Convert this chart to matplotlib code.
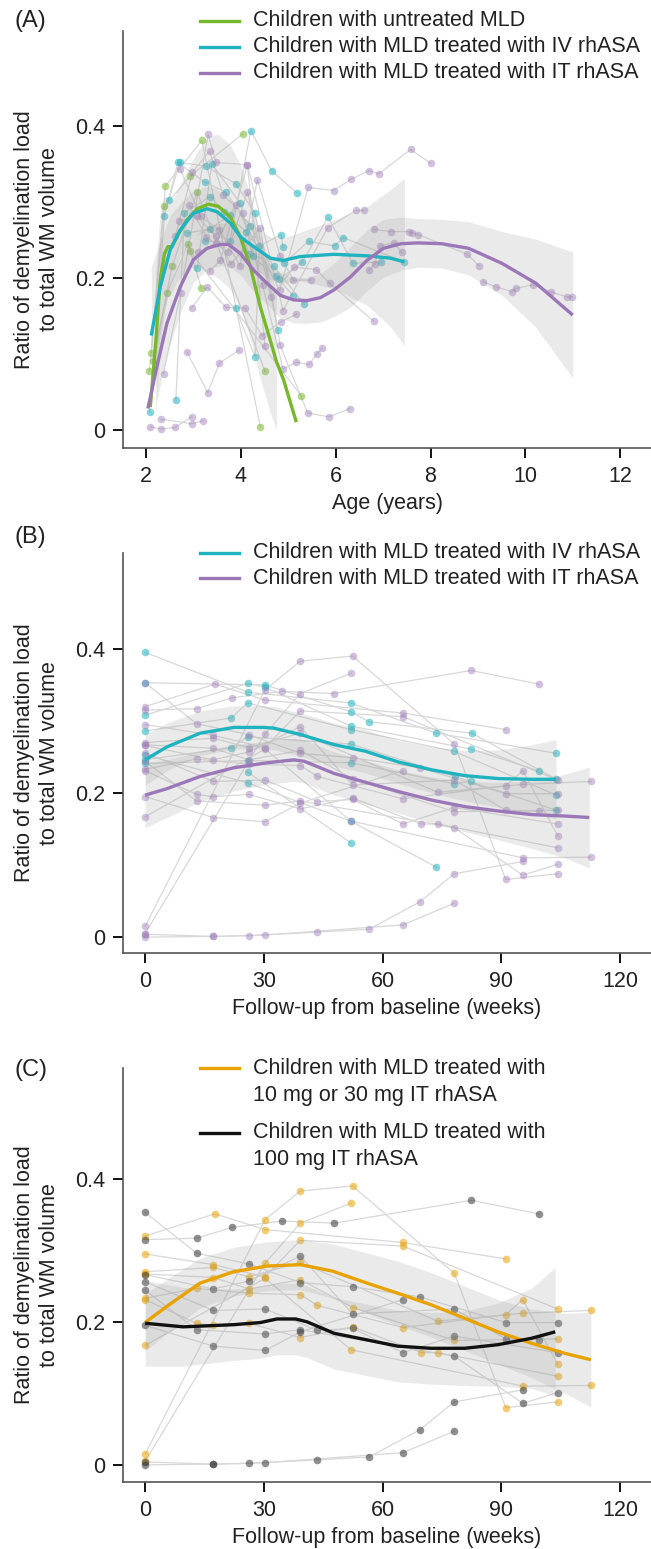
import matplotlib
matplotlib.use("Agg")
import matplotlib.pyplot as plt
from matplotlib.lines import Line2D
import numpy as np

plt.rcParams['font.family'] = ['Liberation Sans', 'DejaVu Sans']
plt.rcParams['font.size'] = 15.5

# colours
c_green = '#76b82a'
c_teal = '#1fb3bf'
c_purple = '#9b77b8'
c_orange = '#e8a202'
c_black = '#111111'

# ---------------- panel A: ratio vs age (one list per child) ----------------
untreated_age = [
    [2.07, 2.41, 3.18, 4.41],
    [2.11, 2.39, 2.93, 4.05],
    [2.15, 2.55, 3.08, 4.51],
    [2.44, 2.89, 3.17],
    [2.92, 5.27],
]
untreated_ratio = [
    [0.077, 0.321, 0.381, 0.004],
    [0.101, 0.294, 0.334, 0.390],
    [0.090, 0.215, 0.313, 0.077],
    [0.180, 0.245, 0.186],
    [0.236, 0.045],
]
iv_age = [
    [2.08, 2.39, 2.67, 3.24, 3.68, 4.20, 4.74, 5.11],
    [2.48, 2.71, 3.26, 3.89, 4.30, 4.78],
    [2.63, 2.81, 3.36, 3.64, 4.10, 4.69, 5.34],
    [2.86, 3.34, 3.78, 4.18, 4.81, 5.30, 5.84, 6.36, 6.96],
    [3.08, 3.39, 3.99, 4.25, 4.92, 5.43, 5.98, 6.16, 7.45],
    [3.24, 3.77, 4.21, 4.65, 5.18],
    [3.89, 4.30, 4.39, 4.85, 4.89],
]
iv_age_ratio = [
    [0.023, 0.282, 0.352, 0.326, 0.313, 0.268, 0.202, 0.176],
    [0.302, 0.352, 0.347, 0.324, 0.285, 0.131],
    [0.039, 0.286, 0.307, 0.287, 0.261, 0.216, 0.165],
    [0.259, 0.264, 0.283, 0.231, 0.198, 0.221, 0.280, 0.219, 0.221],
    [0.213, 0.350, 0.298, 0.229, 0.220, 0.248, 0.242, 0.253, 0.221],
    [0.248, 0.248, 0.394, 0.341, 0.312],
    [0.160, 0.096, 0.242, 0.257, 0.240],
]
it_age = [
    [2.09, 2.32, 2.61, 2.96],
    [2.31, 2.96, 3.21],
    [2.37, 2.73, 3.31, 3.48, 4.14, 4.51],
    [2.62, 2.98, 3.34, 3.63, 4.04, 4.46, 4.89, 5.17, 5.44, 5.61, 5.72],
    [2.70, 3.07, 3.47, 3.79, 4.41, 4.83, 5.41, 5.86, 6.30],
    [2.72, 3.15, 3.55, 3.98, 4.35, 4.83, 5.11, 5.48],
    [2.86, 3.30, 3.55, 3.97],
    [2.91, 3.27, 3.72, 4.14, 4.63, 5.13, 5.59, 5.87, 6.80],
    [2.96, 3.29, 3.69, 4.09, 4.45, 4.84, 5.17],
    [3.10, 3.48, 3.89, 4.82, 5.42, 5.96, 6.33, 6.70, 6.91, 7.58, 8.00],
    [3.34, 3.57, 4.14, 4.89, 5.83, 6.43, 6.59],
    [6.80, 7.16, 7.54, 7.62, 7.74, 8.78, 9.02],
    [6.70, 6.82, 6.94, 7.22, 7.39],
    [9.11, 9.38, 9.72, 9.80, 10.17, 10.55, 10.88, 10.99],
]
it_age_ratio = [
    [0.004, 0.001, 0.003, 0.017],
    [0.014, 0.008, 0.012],
    [0.074, 0.180, 0.389, 0.352, 0.349, 0.110],
    [0.255, 0.339, 0.367, 0.309, 0.285, 0.190, 0.080, 0.089, 0.086, 0.100, 0.107],
    [0.275, 0.281, 0.255, 0.218, 0.266, 0.111, 0.022, 0.017, 0.028],
    [0.343, 0.281, 0.263, 0.216, 0.329, 0.229, 0.197, 0.197],
    [0.103, 0.049, 0.088, 0.105],
    [0.296, 0.254, 0.234, 0.313, 0.175, 0.214, 0.211, 0.193, 0.143],
    [0.160, 0.188, 0.161, 0.160, 0.124, 0.142, 0.152],
    [0.234, 0.246, 0.296, 0.184, 0.319, 0.315, 0.330, 0.341, 0.337, 0.369, 0.351],
    [0.209, 0.223, 0.349, 0.157, 0.266, 0.289, 0.289],
    [0.264, 0.261, 0.261, 0.259, 0.257, 0.231, 0.216],
    [0.210, 0.218, 0.242, 0.246, 0.234],
    [0.195, 0.188, 0.182, 0.186, 0.191, 0.181, 0.175, 0.175],
]

# smoothed fits (x, fit, half width of CI)
fitA_untreated_x = [2.09, 2.20, 2.30, 2.39, 2.46, 2.55, 2.65, 2.86, 3.08, 3.32, 3.53, 3.78, 3.99, 4.20, 4.41, 4.62, 4.75, 4.90, 5.17]
fitA_untreated_y = [0.030, 0.110, 0.197, 0.232, 0.241, 0.241, 0.254, 0.276, 0.291, 0.297, 0.294, 0.280, 0.254, 0.215, 0.162, 0.118, 0.090, 0.066, 0.010]
fitA_untreated_hw = [0.080, 0.095, 0.090, 0.075, 0.065, 0.060, 0.060, 0.065, 0.075, 0.090, 0.095, 0.095, 0.095, 0.095, 0.095, 0.095, 0.090, 0.100, 0.140]
fitA_iv_x = [2.11, 2.30, 2.51, 2.72, 3.00, 3.29, 3.50, 3.78, 3.99, 4.27, 4.62, 4.90, 5.25, 5.96, 6.66, 7.15, 7.45]
fitA_iv_y = [0.124, 0.188, 0.237, 0.263, 0.285, 0.291, 0.287, 0.272, 0.254, 0.241, 0.226, 0.223, 0.228, 0.231, 0.229, 0.226, 0.221]
fitA_iv_hw = [0.090, 0.060, 0.045, 0.035, 0.030, 0.030, 0.030, 0.030, 0.030, 0.028, 0.028, 0.030, 0.032, 0.045, 0.065, 0.090, 0.110]
fitA_it_x = [2.04, 2.23, 2.44, 2.72, 3.00, 3.29, 3.57, 3.74, 3.99, 4.27, 4.55, 4.83, 5.11, 5.39, 5.68, 5.96, 6.31, 6.66, 7.01, 7.38, 7.74, 8.23, 8.80, 9.51, 10.22, 11.00]
fitA_it_y = [0.028, 0.083, 0.140, 0.188, 0.224, 0.239, 0.244, 0.244, 0.232, 0.210, 0.193, 0.177, 0.171, 0.170, 0.174, 0.184, 0.201, 0.223, 0.239, 0.245, 0.246, 0.245, 0.239, 0.219, 0.193, 0.151]
fitA_it_hw = [0.050, 0.045, 0.040, 0.035, 0.030, 0.028, 0.028, 0.028, 0.028, 0.028, 0.028, 0.030, 0.030, 0.030, 0.032, 0.035, 0.040, 0.040, 0.038, 0.035, 0.032, 0.032, 0.035, 0.042, 0.058, 0.083]

# ---------------- panels B and C: ratio vs weeks from baseline ----------------
iv_week = [
    [0, 25.9, 51.9, 73.6, 103.9],
    [0, 30.2, 51.9, 56.5, 82.5, 103.9],
    [0, 25.9, 30.2, 51.9, 82.3, 99.4],
    [0, 21.7, 25.9, 51.9, 78.0, 103.9],
    [0, 21.7, 25.9, 51.9, 78.2, 103.9],
    [0, 25.9, 51.9, 78.0, 82.2],
    [0, 25.9, 51.9, 73.6],
    [25.9, 51.9],
]
iv_ratio = [
    [0.395, 0.340, 0.325, 0.283, 0.255],
    [0.353, 0.350, 0.313, 0.299, 0.283, 0.219],
    [0.308, 0.352, 0.347, 0.293, 0.261, 0.231],
    [0.286, 0.304, 0.325, 0.288, 0.258, 0.197],
    [0.246, 0.263, 0.278, 0.268, 0.223, 0.176],
    [0.241, 0.245, 0.242, 0.213, 0.216],
    [0.253, 0.214, 0.161, 0.097],
    [0.229, 0.131],
]
it_week = [
    [0, 13, 21.9, 34.6, 47.7, 82.4, 99.5],
    [0, 13, 26.2, 39.2, 52.4, 69.4, 91.1, 104.2],
    [0, 17.2, 26.2, 39.2, 52.4, 78.1, 91.1, 99.4],
    [0, 17.2, 30.3, 43.5, 52.4, 65.1, 78.1, 104.2],
    [0, 13, 30.3, 39.2, 78.1, 95.4, 104.2],
    [0, 17.2, 30.3, 39.2, 65.1],
    [0, 17.2, 26.2, 43.5, 56.6, 69.4, 78.1, 95.5],
    [0, 17.2, 30.3, 65.1, 78.1],
    [0, 17.6, 30.3, 65.1, 91.1],
    [0, 17.2, 30.3, 39.2, 65.1, 104.2],
    [0, 17.2, 26.2, 39.2, 73.9, 95.4, 112.7],
    [0, 17.2, 26.2, 39.2, 52.4, 78.1, 104.2],
    [0, 13, 26.2, 39.2, 43.5, 65.1, 91.1, 95.4, 104.2],
    [0, 13, 17.2, 26.2, 39.2, 52.4, 69.7, 73.9, 104.2],
    [0, 30.3, 52.0, 95.5, 112.7],
    [0, 30.3, 39.2, 52.4, 78.1, 91.1, 104.2],
    [0, 30.3, 39.2, 52.0],
]
it_ratio = [
    [0.315, 0.317, 0.332, 0.341, 0.338, 0.370, 0.351],
    [0.353, 0.296, 0.281, 0.255, 0.249, 0.235, 0.199, 0.199],
    [0.266, 0.246, 0.257, 0.292, 0.211, 0.218, 0.176, 0.175],
    [0.256, 0.216, 0.218, 0.188, 0.191, 0.157, 0.180, 0.157],
    [0.244, 0.189, 0.183, 0.189, 0.152, 0.086, 0.101],
    [0.195, 0.166, 0.160, 0.186, 0.231],
    [0.000, 0.001, 0.002, 0.007, 0.011, 0.049, 0.088, 0.105],
    [0.004, 0.001, 0.003, 0.017, 0.047],
    [0.320, 0.351, 0.329, 0.311, 0.288],
    [0.295, 0.280, 0.263, 0.314, 0.306, 0.218],
    [0.270, 0.276, 0.263, 0.283, 0.201, 0.212, 0.216],
    [0.267, 0.262, 0.246, 0.259, 0.220, 0.174, 0.176],
    [0.233, 0.247, 0.240, 0.238, 0.223, 0.192, 0.210, 0.231, 0.141],
    [0.231, 0.198, 0.195, 0.198, 0.178, 0.193, 0.157, 0.157, 0.124],
    [0.167, 0.261, 0.161, 0.110, 0.111],
    [0.015, 0.343, 0.383, 0.390, 0.268, 0.080, 0.088],
    [0.005, 0.282, 0.338, 0.366],
]
it_dose = ['100', '100', '100', '100', '100', '100', '100', '100',
           '10/30', '10/30', '10/30', '10/30', '10/30', '10/30', '10/30', '10/30', '10/30']

fitB_iv_x = [0, 5.5, 13.9, 22.4, 30.0, 32.5, 39.3, 47.8, 55.6, 64.0, 72.5, 80.9, 89.3, 97.7, 103.8]
fitB_iv_y = [0.246, 0.264, 0.283, 0.291, 0.291, 0.290, 0.281, 0.267, 0.258, 0.243, 0.232, 0.224, 0.220, 0.219, 0.219]
fitB_iv_hw = [0.035, 0.033, 0.031, 0.030, 0.030, 0.030, 0.030, 0.030, 0.030, 0.030, 0.032, 0.035, 0.040, 0.048, 0.055]
fitB_it_x = [0, 5.5, 13.9, 22.4, 30.9, 37.6, 40.2, 47.8, 55.6, 64.0, 72.5, 80.9, 89.3, 97.7, 106.1, 112.2]
fitB_it_y = [0.197, 0.206, 0.223, 0.235, 0.242, 0.246, 0.244, 0.227, 0.215, 0.202, 0.190, 0.181, 0.175, 0.170, 0.168, 0.166]
fitB_it_hw = [0.045, 0.040, 0.035, 0.032, 0.030, 0.030, 0.030, 0.030, 0.030, 0.030, 0.032, 0.035, 0.040, 0.047, 0.058, 0.070]

fitC_low_x = [0, 5.3, 13.8, 22.3, 30.8, 39.2, 47.3, 55.6, 63.8, 72.2, 80.7, 89.1, 97.6, 106.0, 112.6]
fitC_low_y = [0.199, 0.221, 0.254, 0.270, 0.278, 0.280, 0.271, 0.255, 0.240, 0.224, 0.205, 0.186, 0.170, 0.156, 0.147]
fitC_low_hw = [0.040, 0.038, 0.035, 0.034, 0.034, 0.035, 0.038, 0.042, 0.045, 0.045, 0.045, 0.045, 0.048, 0.056, 0.066]
fitC_high_x = [0, 9.6, 22.3, 29.1, 33.3, 38.0, 40.9, 47.7, 55.8, 63.8, 72.2, 80.7, 89.1, 97.6, 103.6]
fitC_high_y = [0.198, 0.193, 0.196, 0.199, 0.204, 0.204, 0.200, 0.184, 0.175, 0.166, 0.163, 0.163, 0.168, 0.177, 0.186]
fitC_high_hw = [0.060, 0.055, 0.050, 0.050, 0.050, 0.050, 0.050, 0.050, 0.050, 0.050, 0.050, 0.052, 0.058, 0.070, 0.090]

W, H = 651, 1549


def draw_paths(ax, xs, ys):
    for x, y in zip(xs, ys):
        ax.plot(x, y, color='#d8d8d8', lw=0.9, zorder=1)


def draw_points(ax, xs, ys, color, alpha=0.5):
    ax.scatter(np.concatenate(xs), np.concatenate(ys), s=30, color=color,
               alpha=alpha, linewidths=0, zorder=2)


def draw_fit(ax, x, y, hw, color):
    x = np.array(x); y = np.array(y); hw = np.array(hw)
    lo, hi = y - hw, y + hw
    ax.fill_between(x, lo, hi, where=lo >= -0.001, color='#9a9a9a', alpha=0.2,
                    linewidth=0, zorder=3)
    ax.plot(x, y, color=color, lw=2.4, zorder=4, solid_capstyle='butt')


def style_axes(ax, xlim, ylim, xticks, xlabel):
    ax.set_xlim(*xlim)
    ax.set_ylim(*ylim)
    ax.set_xticks(xticks)
    ax.set_yticks([0, 0.2, 0.4])
    ax.set_yticklabels(['0', '0.2', '0.4'])
    for s in ['top', 'right']:
        ax.spines[s].set_visible(False)
    for s in ['left', 'bottom']:
        ax.spines[s].set_color('#555555')
        ax.spines[s].set_linewidth(1.2)
    ax.tick_params(length=7, width=1.4, color='#111111', labelcolor='#222222', pad=6)
    ax.set_xlabel(xlabel, color='#222222', labelpad=4)
    ax.set_ylabel('Ratio of demyelination load\nto total WM volume', color='#222222',
                  linespacing=1.25)
    ax.yaxis.set_label_coords(-0.12, 0.5)


def add_key(fig, entries, x0=200, x1=239, xt=253):
    # entries: (colour, [(y_px, text line), ...])
    for color, lines in entries:
        yk = 1 - lines[0][0] / H
        fig.add_artist(Line2D([x0 / W, x1 / W], [yk, yk], color=color, lw=2.4))
        for ypx, txt in lines:
            fig.text(xt / W, 1 - ypx / H, txt, va='center', ha='left', color='#222222')


fig = plt.figure(figsize=(W / 100, H / 100), dpi=100)

# ---- A ----
axA = fig.add_axes([123 / W, 1 - 448 / H, 528 / W, 417 / H])
draw_paths(axA, untreated_age, untreated_ratio)
draw_paths(axA, iv_age, iv_age_ratio)
draw_paths(axA, it_age, it_age_ratio)
draw_points(axA, untreated_age, untreated_ratio, c_green, 0.55)
draw_points(axA, iv_age, iv_age_ratio, c_teal, 0.55)
draw_points(axA, it_age, it_age_ratio, c_purple, 0.45)
draw_fit(axA, fitA_untreated_x, fitA_untreated_y, fitA_untreated_hw, c_green)
draw_fit(axA, fitA_iv_x, fitA_iv_y, fitA_iv_hw, c_teal)
draw_fit(axA, fitA_it_x, fitA_it_y, fitA_it_hw, c_purple)
style_axes(axA, (1.515, 12.65), (-0.024, 0.525), [2, 4, 6, 8, 10, 12], 'Age (years)')
add_key(fig, [(c_green, [(21, 'Children with untreated MLD')]),
              (c_teal, [(47, 'Children with MLD treated with IV rhASA')]),
              (c_purple, [(73, 'Children with MLD treated with IT rhASA')])])
fig.text(14 / W, 1 - 21 / H, '(A)', va='center', ha='left', color='#222222', fontsize=17)

# ---- B ----
axB = fig.add_axes([123 / W, 1 - 953 / H, 528 / W, 400 / H])
draw_paths(axB, iv_week, iv_ratio)
draw_paths(axB, it_week, it_ratio)
draw_points(axB, iv_week, iv_ratio, c_teal, 0.55)
draw_points(axB, it_week, it_ratio, c_purple, 0.45)
draw_fit(axB, fitB_iv_x, fitB_iv_y, fitB_iv_hw, c_teal)
draw_fit(axB, fitB_it_x, fitB_it_y, fitB_it_hw, c_purple)
style_axes(axB, (-5.6, 127.8), (-0.022, 0.533), [0, 30, 60, 90, 120],
           'Follow-up from baseline (weeks)')
add_key(fig, [(c_teal, [(553, 'Children with MLD treated with IV rhASA')]),
              (c_purple, [(578, 'Children with MLD treated with IT rhASA')])])
fig.text(14 / W, 1 - 537 / H, '(B)', va='center', ha='left', color='#222222', fontsize=17)

# ---- C ----
axC = fig.add_axes([123 / W, 1 - 1482 / H, 528 / W, 414 / H])
hi_w = [w for w, d in zip(it_week, it_dose) if d == '100']
hi_r = [r for r, d in zip(it_ratio, it_dose) if d == '100']
lo_w = [w for w, d in zip(it_week, it_dose) if d != '100']
lo_r = [r for r, d in zip(it_ratio, it_dose) if d != '100']
draw_paths(axC, it_week, it_ratio)
draw_points(axC, lo_w, lo_r, c_orange, 0.55)
draw_points(axC, hi_w, hi_r, '#333333', 0.55)
draw_fit(axC, fitC_low_x, fitC_low_y, fitC_low_hw, c_orange)
draw_fit(axC, fitC_high_x, fitC_high_y, fitC_high_hw, c_black)
style_axes(axC, (-5.6, 127.8), (-0.024, 0.555), [0, 30, 60, 90, 120],
           'Follow-up from baseline (weeks)')
add_key(fig, [(c_orange, [(1068, 'Children with MLD treated with'),
                          (1095, '10 mg or 30 mg IT rhASA')]),
              (c_black, [(1133, 'Children with MLD treated with'),
                         (1160, '100 mg IT rhASA')])])
fig.text(14 / W, 1 - 1070 / H, '(C)', va='center', ha='left', color='#222222', fontsize=17)

fig.savefig('out.png', dpi=100)
